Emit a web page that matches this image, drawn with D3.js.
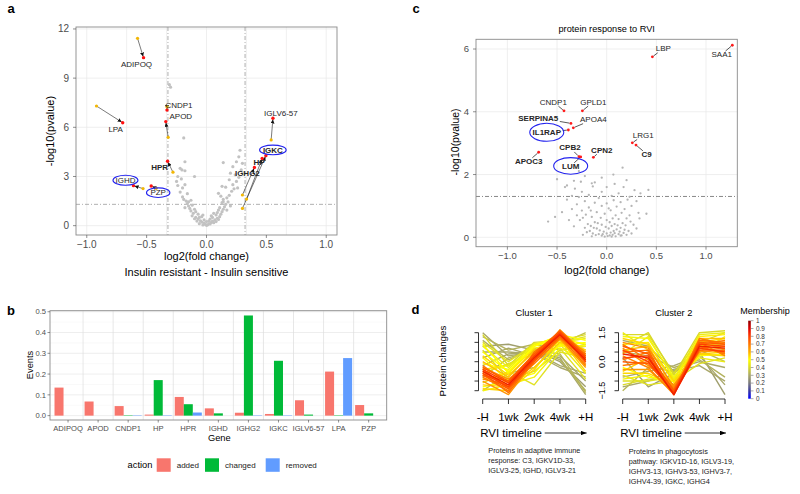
<!DOCTYPE html>
<html>
<head>
<meta charset="utf-8">
<script src="https://cdn.jsdelivr.net/npm/d3@7/dist/d3.min.js"></script>
<style>
html,body{margin:0;padding:0;background:#fff;}
svg{display:block;font-family:"Liberation Sans",Arial,Helvetica,sans-serif;}
</style>
</head>
<body>
<svg id="fig" width="800" height="494"></svg>
<script>
// ================= DATA =================
// ---- panel a ----
const aXTicks = [-1.0, -0.5, 0.0, 0.5, 1.0];
const aYTicks = [0, 3, 6, 9, 12];
const aGridX = [-1, -0.667, -0.333, 0, 0.333, 0.667, 1];
const aFcCut = 0.322, aPCut = 1.301;
const aGenes = ["ADIPOQ","LPA","CNDP1","APOD","HPR","IGHD","PZP","IGLV6-57","IGKC","HP","IGHG2"];
const aBold  = ["HPR","IGKC","HP","IGHG2"];
const aFromX = [-0.576,-0.919,-0.33,-0.32,-0.28,-0.53,-0.42,0.54,0.30,0.335,0.30];
const aFromY = [11.43,7.30,7.25,5.39,3.26,2.26,2.28,5.23,1.05,1.62,1.87];
const aToX   = [-0.526,-0.70,-0.33,-0.34,-0.325,-0.61,-0.462,0.555,0.496,0.465,0.40];
const aToY   = [10.25,6.28,7.05,6.35,3.93,2.44,2.42,6.55,4.27,4.10,3.55];
const aCircled = ["IGHD","PZP","IGKC"];
const aBackground = [
 [0.00,0.02],[0.01,0.05],[-0.01,0.08],[0.02,0.12],[-0.02,0.15],[0.03,0.10],[-0.03,0.04],[0.04,0.20],[-0.04,0.22],[0.05,0.28],
 [-0.05,0.30],[0.06,0.18],[-0.06,0.12],[0.07,0.35],[-0.07,0.40],[0.08,0.25],[-0.08,0.28],[0.09,0.45],[-0.09,0.50],[0.10,0.38],
 [-0.10,0.42],[0.02,0.30],[-0.02,0.35],[0.05,0.50],[-0.04,0.55],[0.11,0.55],[-0.12,0.60],[0.00,0.25],[0.03,0.40],[-0.06,0.50],
 [0.12,0.70],[-0.11,0.75],[0.13,0.85],[-0.13,0.90],[0.09,0.80],[-0.09,0.85],[0.14,1.00],[-0.14,1.05],[0.15,1.15],[-0.15,1.20],
 [0.11,1.10],[-0.12,1.25],[0.16,1.30],[-0.16,1.35],[0.18,1.45],[-0.17,1.50],[0.13,1.40],[-0.19,1.60],[0.10,0.95],[-0.10,1.00],
 [0.17,0.95],[-0.18,1.10],[0.20,1.20],[0.08,0.65],[-0.07,0.70],[0.04,0.60],[0.06,0.75],[-0.03,0.65],
 [0.17,1.70],[-0.20,1.75],[0.19,1.85],[-0.16,1.95],[0.14,1.60],[-0.22,2.05],[0.21,2.10],[-0.20,2.30],[0.23,2.25],[-0.24,2.45],
 [0.16,2.35],[-0.18,2.50],[0.13,2.40],[0.22,2.50],[-0.25,2.70],[0.25,2.70],[-0.21,2.85],[0.19,2.80],[-0.24,3.00],[0.27,2.95],
 [0.24,3.10],[-0.10,3.00],[0.20,3.20],[0.12,1.80],[-0.13,1.55],[0.10,1.97],[-0.15,1.46],[0.14,1.46],
 [-0.22,3.50],[-0.18,3.35],[-0.18,3.90],[0.22,3.60],[0.25,3.90],[0.27,4.20],[0.28,4.60],[0.14,3.85],[0.29,3.40],[0.30,3.80],
 [-0.19,5.35],[-0.31,8.60],[-0.30,8.45],[-0.205,3.40],[0.26,2.30]
];
// ---- panel b ----
const bGenes = ["ADIPOQ","APOD","CNDP1","HP","HPR","IGHD","IGHG2","IGKC","IGLV6-57","LPA","PZP"];
const bActions = ["added","changed","removed"];
const bAdded   = [0.135,0.068,0.046,0.005,0.090,0.035,0.014,0.008,0.074,0.212,0.051];
const bChanged = [0.000,0.000,0.002,0.171,0.055,0.011,0.482,0.264,0.005,0.002,0.011];
const bRemoved = [0.000,0.000,0.002,0.002,0.015,0.000,0.002,0.002,0.000,0.277,0.000];
const bYTicks = [0.0,0.1,0.2,0.3,0.4,0.5];
// ---- panel c ----
const cXTicks = [-1.0,-0.5,0.0,0.5,1.0];
const cYTicks = [0,2,4,6];
const cGenes = ["LBP","SAA1","CNDP1","GPLD1","SERPINA5","APOA4","IL1RAP","LRG1","C9","CPB2","CPN2","APOC3","LUM"];
const cBold  = ["SERPINA5","IL1RAP","C9","CPB2","CPN2","APOC3","LUM"];
const cX = [0.46,1.265,-0.43,-0.245,-0.36,-0.336,-0.386,0.258,0.295,-0.279,-0.134,-0.685,-0.262];
const cY = [5.75,6.12,4.03,4.03,3.63,3.49,3.42,3.01,2.94,2.57,2.55,2.71,2.56];
const cCircled = ["IL1RAP","LUM"];
const cBackground = [
 [-0.02,0.02],[0.01,0.04],[0.03,0.06],[-0.05,0.05],[0.06,0.08],[-0.08,0.10],[0.09,0.03],[-0.11,0.07],[0.12,0.10],[-0.14,0.12],
 [0.15,0.06],[0.00,0.12],[0.04,0.15],[-0.03,0.18],[0.07,0.20],[-0.07,0.22],[0.10,0.25],[-0.10,0.28],[0.13,0.18],[-0.13,0.30],
 [0.17,0.14],[-0.17,0.20],[0.20,0.08],[-0.20,0.16],[0.02,0.28],[-0.01,0.33],[0.05,0.36],[-0.05,0.40],[0.08,0.42],[-0.09,0.45],
 [0.11,0.38],[0.14,0.30],[-0.16,0.36],[0.18,0.24],[-0.22,0.30],[0.22,0.20],[0.25,0.12],[-0.24,0.08],[0.03,0.48],[0.16,0.45],
 [-0.12,0.48],[0.19,0.38],[-0.19,0.42],[0.08,0.13],[-0.04,0.10],[0.14,0.05],[-0.15,0.03],[0.05,0.02],
 [-0.27,0.55],[0.00,0.55],[0.06,0.60],[-0.06,0.62],[0.12,0.58],[-0.15,0.65],[0.20,0.60],[-0.30,0.70],[0.24,0.50],[0.27,0.40],
 [-0.21,0.72],[0.09,0.70],[-0.02,0.75],[0.15,0.78],[-0.10,0.80],[0.32,0.78],[-0.25,0.85],[0.04,0.86],[-0.35,0.90],[0.18,0.90],
 [-0.18,0.95],[0.10,0.98],[-0.05,1.00],[0.25,1.00],[-0.30,1.05],[0.00,1.08],[-0.12,1.10],[0.14,1.12],[-0.22,1.15],[0.07,1.18],
 [-0.40,1.20],[0.21,1.20],[-0.08,1.25],[-0.28,1.28],[0.30,1.15],[-0.45,0.80],[-0.38,0.55],[-0.59,0.50],[-0.52,0.65],[0.40,0.75],
 [0.33,0.60],[-0.33,0.35],[0.30,0.28],[-0.24,0.62],[0.23,0.70],[-0.16,0.85],[0.02,0.92],
 [-0.35,1.32],[0.05,1.32],[0.23,1.29],[-0.18,1.35],[0.12,1.40],[-0.25,1.45],[-0.05,1.45],[0.28,1.50],[0.42,1.51],[-0.32,1.55],
 [0.00,1.60],[0.17,1.60],[-0.14,1.62],[-0.40,1.65],[0.08,1.70],[-0.26,1.77],[-0.15,1.72],[-0.12,1.75],[0.20,1.82],[-0.33,1.80],
 [-0.50,1.85],[-0.05,1.90],[-0.22,1.95],[0.067,2.00],[-0.28,2.11],[0.16,2.22],[-0.42,1.60],[0.34,1.40]
];
// ---- panel d ----
const dTimes = ["-H","1wk","2wk","4wk","+H"];
const dYTicks = [-1.5,-1.0,-0.5,0.0,0.5,1.0,1.5];
const dYLabels = [1.5,0.0,-1.5];
const dC1Values = [
 [-0.5,-1.2,0.2,1.4,0.1],[-0.6,-1.3,0.1,1.5,0.0],[-0.4,-1.1,0.3,1.5,0.2],[-0.7,-1.4,0.0,1.3,0.2],[-0.3,-1.0,0.4,1.6,0.3],
 [-0.8,-1.5,0.2,1.4,-0.1],[-0.5,-1.3,-0.1,1.2,0.4],[-0.2,-1.1,0.2,1.3,-0.2],[-0.9,-1.2,0.3,1.6,0.1],[-0.6,-1.6,0.1,1.3,0.3],
 [-0.4,-1.4,0.5,1.5,0.0],[-1.0,-1.7,0.0,1.65,0.4],[-0.3,-0.9,0.1,1.4,0.5],[-0.7,-1.0,0.4,1.2,-0.3],
 [0.0,-0.8,0.6,1.1,0.3],[-1.2,-1.3,-0.3,1.0,0.6],[0.3,-0.7,0.5,1.3,0.6],[-0.9,-0.6,0.7,1.0,-0.2],[0.5,-0.5,0.8,1.2,0.9],
 [-1.3,-1.0,-0.6,0.9,0.8],[0.2,-1.0,0.2,0.8,1.0],[-0.1,-0.4,0.9,1.3,0.4],[-1.5,-1.2,-0.8,0.7,0.1],[0.8,-0.3,0.9,1.0,1.2],
 [-0.4,-0.2,0.6,0.9,-0.6],[1.0,0.0,0.9,1.0,1.3],[-1.1,-0.5,-1.2,0.5,0.2],[1.4,-0.2,1.0,1.1,1.4],[0.6,-0.9,-0.5,0.6,0.9],
 [-0.6,-0.1,0.4,0.7,-0.9],[0.9,-0.6,0.8,1.4,1.1],[-1.4,-1.5,-0.4,1.2,-0.5],
 [1.5,0.3,0.5,0.2,-1.7],[0.8,0.9,0.6,0.0,-1.3],[0.5,0.5,0.4,-0.3,-0.8],[0.2,0.7,0.3,0.3,-1.0],[1.1,0.1,0.7,0.1,-1.5],
 [-0.2,0.4,0.5,-0.2,-0.6],[-0.8,0.2,0.6,0.4,-1.6],[1.3,0.6,0.9,0.6,0.8],[-1.5,-0.6,-0.3,0.9,1.5]
];
const dC1Member = [0.85,0.8,0.8,0.75,0.75,0.7,0.7,0.7,0.68,0.72,0.72,0.65,0.66,0.64,
 0.58,0.56,0.55,0.52,0.5,0.5,0.5,0.48,0.47,0.45,0.45,0.42,0.42,0.4,0.4,0.42,0.5,0.55,
 0.3,0.28,0.3,0.3,0.32,0.3,0.33,0.32,0.35];
const dC2Values = [
 [0.4,0.2,-1.7,0.8,0.7],[0.6,0.0,-1.6,0.9,0.8],[0.2,0.3,-1.7,0.7,0.5],[0.8,0.4,-1.5,1.0,0.9],[0.0,-0.1,-1.6,0.6,0.6],
 [0.5,0.6,-1.7,1.1,1.0],[0.9,0.1,-1.4,0.8,0.4],[-0.2,0.0,-1.5,0.9,1.1],[0.3,-0.3,-1.7,1.0,0.3],[1.0,0.7,-1.3,0.6,0.7],
 [0.1,0.5,-1.6,1.2,0.9],[0.7,-0.2,-1.2,0.5,0.6],[-0.4,-0.4,-1.6,0.7,0.8],
 [1.2,0.9,-1.0,0.4,0.3],[-0.6,-0.6,-1.2,1.0,1.2],[0.9,1.0,-1.1,1.3,1.4],[-0.3,-0.8,-1.0,0.3,0.4],[1.3,1.2,-0.8,0.8,1.0],
 [-0.9,-0.7,-1.3,0.5,1.3],[0.4,1.3,-0.9,1.4,1.5],[1.5,0.6,-0.9,0.2,0.0],[-1.0,-1.0,-0.8,0.8,0.9],[0.8,1.5,-0.7,1.5,1.6],
 [-0.7,-1.2,-1.0,-0.1,0.2],[1.4,1.4,-0.6,1.1,0.6],[-1.2,-0.9,-0.9,1.0,1.5],[0.6,0.8,-1.4,1.2,1.2],[-0.5,0.2,-1.3,0.4,0.5],
 [-1.3,-1.0,-0.4,0.0,-0.3],[0.2,-1.3,-0.6,0.5,-1.7],[-0.8,-0.5,-0.2,0.3,-1.2],[0.5,0.3,-0.3,0.1,-0.8],[1.1,0.8,-0.5,-0.2,-1.0],
 [-1.5,-0.3,-0.5,0.6,0.0]
];
const dC2Member = [0.85,0.8,0.8,0.75,0.75,0.72,0.7,0.7,0.68,0.66,0.7,0.65,0.64,
 0.55,0.55,0.52,0.5,0.48,0.47,0.45,0.45,0.42,0.4,0.42,0.4,0.4,0.58,0.56,
 0.3,0.28,0.3,0.32,0.3,0.33];
const dMemberTicks = [0,0.1,0.2,0.3,0.4,0.5,0.6,0.7,0.8,0.9,1];
const dNote1 = ["Proteins in adaptive immune","response: C3, IGKV1D-33,","IGLV3-25, IGHD, IGLV3-21"];
const dNote2 = ["Proteins in phagocytosis","pathway: IGKV1D-16, IGLV3-19,","IGHV3-13, IGHV3-53, IGHV3-7,","IGHV4-39, IGKC, IGHG4"];

// ================= LAYOUT / STYLE =================
const aLabDX = [-7,-7,12,15,-8,-8,7,8,7,-3,-7];
const aLabDY = [6.5,6.6,-5,-5,6,-5.4,6.7,-5,-5.7,3.3,5.7];
const aEll = {IGHD:[12.5,5],PZP:[11.7,4.8],IGKC:[13.3,4.8]};
const cLabDX = [11,-10.6,-10.7,11,-32.7,20,-21.6,11,10.7,-9,8.4,-10,-10];
const cLabDY = [-8.4,9,-9,-9,-5.6,-8.4,2.3,-7.7,9,-9,-7.3,8.7,9];
const cEll = {IL1RAP:[17,9],LUM:[17,8.3]};
const memColorStops = [[0,"#0000ff"],[0.1,"#3a3aa0"],[0.2,"#7a7a80"],[0.3,"#a9a86a"],[0.4,"#d9d92a"],[0.5,"#ffff00"],
  [0.6,"#ffb000"],[0.7,"#ff7800"],[0.8,"#ff4000"],[0.9,"#e00000"],[1,"#8b0000"]];
const actionColors = ["#F8766D","#00BA38","#619CFF"];

const svg = d3.select("#fig");
const defs = svg.append("defs");
defs.append("marker").attr("id","arrA").attr("viewBox","0 0 6 6").attr("refX",6).attr("refY",3)
  .attr("markerWidth",4).attr("markerHeight",4).attr("markerUnits","userSpaceOnUse").attr("orient","auto")
  .append("path").attr("d","M0,0 L6,3 L0,6 z").attr("fill","#111");
defs.append("marker").attr("id","arrD").attr("viewBox","0 0 8 6").attr("refX",8).attr("refY",3)
  .attr("markerWidth",6).attr("markerHeight",4.5).attr("markerUnits","userSpaceOnUse").attr("orient","auto")
  .append("path").attr("d","M0,0 L8,3 L0,6 z").attr("fill","#000");

function txt(g,x,y,s,o={}){
  const t=g.append("text").attr("x",x).attr("y",y).text(s)
    .attr("font-size",o.size||10).attr("fill",o.fill||"#000")
    .attr("text-anchor",o.anchor||"middle");
  if(o.bold) t.attr("font-weight","bold");
  if(o.mid!==false) t.attr("dy","0.35em");
  if(o.rot) t.attr("transform",`rotate(${o.rot},${x},${y})`);
  return t;
}

// panel letters
txt(svg,11,8.5,"a",{size:13,bold:true});
txt(svg,416,8.5,"c",{size:13,bold:true});
txt(svg,11,310.5,"b",{size:13,bold:true});
txt(svg,415.5,309.5,"d",{size:13,bold:true});

// ================= PANEL A =================
(function(){
  const X0=76,X1=337,Y0=27,Y1=235;
  const x=d3.scaleLinear().domain([-1.09,1.09]).range([X0,X1]);
  const y=d3.scaleLinear().domain([-0.57,12.12]).range([Y1,Y0]);
  const g=svg.append("g");
  g.selectAll(null).data(aGridX).join("line").attr("x1",d=>x(d)).attr("x2",d=>x(d)).attr("y1",Y0).attr("y2",Y1)
    .attr("stroke","#e8e8e8").attr("stroke-width",0.7);
  g.selectAll(null).data(aYTicks).join("line").attr("y1",d=>y(d)).attr("y2",d=>y(d)).attr("x1",X0).attr("x2",X1)
    .attr("stroke","#e8e8e8").attr("stroke-width",0.7);
  const dash="4,2,1,2";
  [-aFcCut,aFcCut].forEach(v=>g.append("line").attr("x1",x(v)).attr("x2",x(v)).attr("y1",Y0).attr("y2",Y1)
    .attr("stroke","#9a9a9a").attr("stroke-width",0.8).attr("stroke-dasharray",dash));
  g.append("line").attr("x1",X0).attr("x2",X1).attr("y1",y(aPCut)).attr("y2",y(aPCut))
    .attr("stroke","#9a9a9a").attr("stroke-width",0.8).attr("stroke-dasharray",dash);
  g.selectAll(null).data(aBackground).join("circle").attr("cx",d=>x(d[0])).attr("cy",d=>y(d[1])).attr("r",1.6)
    .attr("fill","#c2c2c2");
  // arrows
  aGenes.forEach((gn,i)=>{
    const x1=x(aFromX[i]),y1=y(aFromY[i]),x2=x(aToX[i]),y2=y(aToY[i]);
    const L=Math.hypot(x2-x1,y2-y1);
    const ux=(x2-x1)/L,uy=(y2-y1)/L;
    g.append("line").attr("x1",x1).attr("y1",y1).attr("x2",x2-ux*1.2).attr("y2",y2-uy*1.2)
      .attr("stroke","#222").attr("stroke-width",0.6).attr("marker-end","url(#arrA)");
  });
  g.selectAll(null).data(aGenes).join("circle").attr("cx",(d,i)=>x(aFromX[i])).attr("cy",(d,i)=>y(aFromY[i]))
    .attr("r",1.6).attr("fill","#f2b705");
  g.selectAll(null).data(aGenes).join("circle").attr("cx",(d,i)=>x(aToX[i])).attr("cy",(d,i)=>y(aToY[i]))
    .attr("r",1.7).attr("fill","#ff1010");
  aGenes.forEach((gn,i)=>{
    const lx=x(aToX[i])+aLabDX[i], ly=y(aToY[i])+aLabDY[i];
    txt(g,lx,ly,gn,{size:8,fill:"#262626",bold:aBold.includes(gn)});
    if(aCircled.includes(gn)){
      const e=aEll[gn];
      g.append("ellipse").attr("cx",lx).attr("cy",ly).attr("rx",e[0]).attr("ry",e[1])
        .attr("fill","none").attr("stroke","#2323ee").attr("stroke-width",1.1);
    }
  });
  g.append("rect").attr("x",X0).attr("y",Y0).attr("width",X1-X0).attr("height",Y1-Y0)
    .attr("fill","none").attr("stroke","#8a8a8a").attr("stroke-width",0.9);
  aXTicks.forEach(v=>{
    g.append("line").attr("x1",x(v)).attr("x2",x(v)).attr("y1",Y1).attr("y2",Y1+3).attr("stroke","#444").attr("stroke-width",0.6);
    txt(g,x(v),244,d3.format(".1f")(v),{size:10,fill:"#4d4d4d"});
  });
  aYTicks.forEach(v=>{
    g.append("line").attr("x1",X0-3).attr("x2",X0).attr("y1",y(v)).attr("y2",y(v)).attr("stroke","#444").attr("stroke-width",0.6);
    txt(g,69,y(v),String(v),{size:10,fill:"#4d4d4d",anchor:"end"});
  });
  txt(g,50,131,"-log10(pvalue)",{size:11,rot:-90});
  txt(g,(X0+X1)/2,256,"log2(fold change)",{size:11});
  txt(g,(X0+X1)/2,272,"Insulin resistant - Insulin sensitive",{size:11});
})();

// ================= PANEL C =================
(function(){
  const X0=476,X1=737.3,Y0=39.3,Y1=246.7;
  const x=d3.scaleLinear().domain([-1.316,1.315]).range([X0,X1]);
  const y=d3.scaleLinear().domain([-0.3,6.31]).range([Y1,Y0]);
  const g=svg.append("g");
  g.selectAll(null).data(cXTicks).join("line").attr("x1",d=>x(d)).attr("x2",d=>x(d)).attr("y1",Y0).attr("y2",Y1)
    .attr("stroke","#e8e8e8").attr("stroke-width",0.7);
  g.selectAll(null).data(cYTicks).join("line").attr("y1",d=>y(d)).attr("y2",d=>y(d)).attr("x1",X0).attr("x2",X1)
    .attr("stroke","#e8e8e8").attr("stroke-width",0.7);
  g.append("line").attr("x1",X0).attr("x2",X1).attr("y1",y(aPCut)).attr("y2",y(aPCut))
    .attr("stroke","#6a6a6a").attr("stroke-width",0.8).attr("stroke-dasharray","4,2,1,2");
  g.selectAll(null).data(cBackground).join("circle").attr("cx",d=>x(d[0])).attr("cy",d=>y(d[1])).attr("r",1.15)
    .attr("fill","#b5b5b5");
  g.selectAll(null).data(cGenes).join("circle").attr("cx",(d,i)=>x(cX[i])).attr("cy",(d,i)=>y(cY[i]))
    .attr("r",1.4).attr("fill","#ff1a1a");
  cGenes.forEach((gn,i)=>{
    const px=x(cX[i]),py=y(cY[i]);
    const lx=px+cLabDX[i], ly=py+cLabDY[i];
    const t=txt(g,lx,ly,gn,{size:8,fill:"#262626",bold:cBold.includes(gn)});
    const bb=t.node().getBBox();
    const bx0=bb.x-1,bx1=bb.x+bb.width+1,by0=bb.y+1,by1=bb.y+bb.height-0.5;
    // segment point -> label box edge
    const dx=lx-px,dy=ly-py;
    let tmax=1;
    const cand=[];
    if(dx!==0){cand.push(((dx>0?bx0:bx1)-px)/dx);}
    if(dy!==0){cand.push(((dy>0?by0:by1)-py)/dy);}
    cand.forEach(tt=>{
      const qx=px+dx*tt,qy=py+dy*tt;
      if(tt>0&&tt<tmax&&qx>=bx0-0.01&&qx<=bx1+0.01&&qy>=by0-0.01&&qy<=by1+0.01) tmax=tt;
    });
    const ex=px+dx*tmax,ey=py+dy*tmax;
    const L=Math.hypot(ex-px,ey-py);
    if(L>2.5){
      const ux=(ex-px)/L,uy=(ey-py)/L;
      g.append("line").attr("x1",px+ux*1.5).attr("y1",py+uy*1.5).attr("x2",ex).attr("y2",ey)
        .attr("stroke","#111").attr("stroke-width",0.7);
    }
    if(cCircled.includes(gn)){
      const e=cEll[gn];
      g.append("ellipse").attr("cx",lx).attr("cy",ly).attr("rx",e[0]).attr("ry",e[1])
        .attr("fill","none").attr("stroke","#2323ee").attr("stroke-width",1.1);
    }
  });
  g.append("rect").attr("x",X0).attr("y",Y0).attr("width",X1-X0).attr("height",Y1-Y0)
    .attr("fill","none").attr("stroke","#8a8a8a").attr("stroke-width",0.9);
  cXTicks.forEach(v=>{
    g.append("line").attr("x1",x(v)).attr("x2",x(v)).attr("y1",Y1).attr("y2",Y1+3).attr("stroke","#444").attr("stroke-width",0.6);
    txt(g,x(v),256,d3.format(".1f")(v),{size:9.5,fill:"#4d4d4d"});
  });
  cYTicks.forEach(v=>{
    g.append("line").attr("x1",X0-3).attr("x2",X0).attr("y1",y(v)).attr("y2",y(v)).attr("stroke","#444").attr("stroke-width",0.6);
    txt(g,469,y(v),String(v),{size:9.5,fill:"#4d4d4d",anchor:"end"});
  });
  txt(g,455,142,"-log10(pvalue)",{size:10.5,rot:-90});
  txt(g,(X0+X1)/2,270.5,"log2(fold change)",{size:11});
  txt(g,(X0+X1)/2,29,"protein response to RVI",{size:9.2});
})();

// ================= PANEL B =================
(function(){
  const X0=50,X1=386.7,Y0=310.7,Y1=420;
  const x=d3.scaleBand().domain(bGenes).range([X0,X1]).paddingInner(0).paddingOuter(0.1);
  const xs=d3.scaleBand().domain(bActions).range([-0.45*x.step(),0.45*x.step()]);
  const y=d3.scaleLinear().domain([-0.021,0.505]).range([Y1,Y0]);
  const g=svg.append("g");
  const minor=[0.05,0.15,0.25,0.35,0.45];
  g.selectAll(null).data(minor).join("line").attr("y1",d=>y(d)).attr("y2",d=>y(d)).attr("x1",X0).attr("x2",X1)
    .attr("stroke","#f3f3f3").attr("stroke-width",0.5);
  g.selectAll(null).data(bYTicks).join("line").attr("y1",d=>y(d)).attr("y2",d=>y(d)).attr("x1",X0).attr("x2",X1)
    .attr("stroke","#e6e6e6").attr("stroke-width",0.7);
  g.selectAll(null).data(bGenes.slice(1)).join("line").attr("x1",d=>x(d)).attr("x2",d=>x(d)).attr("y1",Y0).attr("y2",Y1)
    .attr("stroke","#dcdcdc").attr("stroke-width",0.7);
  const series=[bAdded,bChanged,bRemoved];
  bGenes.forEach((gn,i)=>{
    const c=x(gn)+x.bandwidth()/2;
    bActions.forEach((a,j)=>{
      const v=series[j][i];
      g.append("rect").attr("x",c+xs(a)).attr("width",xs.bandwidth())
        .attr("y",y(v)).attr("height",Math.max(0,y(0)-y(v))).attr("fill",actionColors[j]);
    });
  });
  g.append("rect").attr("x",X0).attr("y",Y0).attr("width",X1-X0).attr("height",Y1-Y0)
    .attr("fill","none").attr("stroke","#8a8a8a").attr("stroke-width",0.9);
  bGenes.forEach(gn=>{
    const c=x(gn)+x.bandwidth()/2;
    g.append("line").attr("x1",c).attr("x2",c).attr("y1",Y1).attr("y2",Y1+2.5).attr("stroke","#444").attr("stroke-width",0.6);
    txt(g,c,428.5,gn,{size:7.6,fill:"#4d4d4d"});
  });
  bYTicks.forEach(v=>{
    g.append("line").attr("x1",X0-2.5).attr("x2",X0).attr("y1",y(v)).attr("y2",y(v)).attr("stroke","#444").attr("stroke-width",0.6);
    txt(g,46,y(v),d3.format(".1f")(v),{size:7.6,fill:"#4d4d4d",anchor:"end"});
  });
  txt(g,29.5,365,"Events",{size:9.3,rot:-90});
  txt(g,(X0+X1)/2+1,437.5,"Gene",{size:9.3});
  // legend
  txt(g,140,465,"action",{size:9.3});
  const keyX=[156.7,205,265.7];
  bActions.forEach((a,j)=>{
    g.append("rect").attr("x",keyX[j]).attr("y",458.3).attr("width",14).attr("height",13.5).attr("fill",actionColors[j]);
    txt(g,keyX[j]+20,465,a,{size:8,fill:"#222",anchor:"start"});
  });
})();

// ================= PANEL D =================
(function(){
  const memColor=d3.scaleLinear().domain(memColorStops.map(d=>d[0])).range(memColorStops.map(d=>d[1]));
  const y=d3.scaleLinear().domain([-1.5,1.5]).range([390.7,332.7]);
  const g=svg.append("g");
  function cluster(xr,values,member,axisX,title,showLabels,note,noteX,noteY){
    const x=d3.scalePoint().domain(dTimes).range(xr);
    const idx=d3.range(values.length).sort((a,b)=>member[a]-member[b]);
    const line=d3.line().x((d,i)=>x(dTimes[i])).y(d=>y(d));
    idx.forEach(k=>{
      g.append("path").attr("d",line(values[k])).attr("fill","none")
        .attr("stroke",memColor(member[k])).attr("stroke-width",1.4).attr("stroke-linejoin","round");
    });
    // y axis
    g.append("line").attr("x1",axisX).attr("x2",axisX).attr("y1",y(-1.5)).attr("y2",y(1.5)).attr("stroke","#000").attr("stroke-width",0.8);
    dYTicks.forEach(v=>g.append("line").attr("x1",axisX-4).attr("x2",axisX).attr("y1",y(v)).attr("y2",y(v)).attr("stroke","#000").attr("stroke-width",0.8));
    if(showLabels){
      dYLabels.forEach(v=>txt(g,axisX-17,y(v),d3.format(".1f")(v),{size:9,rot:-90}));
    }
    // x axis
    const ay=399;
    g.append("line").attr("x1",xr[0]).attr("x2",xr[1]).attr("y1",ay).attr("y2",ay).attr("stroke","#000").attr("stroke-width",0.8);
    dTimes.forEach(t=>{
      g.append("line").attr("x1",x(t)).attr("x2",x(t)).attr("y1",ay).attr("y2",ay+5).attr("stroke","#000").attr("stroke-width",0.8);
      txt(g,x(t),417,t,{size:11.5});
    });
    txt(g,(xr[0]+xr[1])/2,313,title,{size:9.3});
    txt(g,xr[0]-2.5,433,"RVI timeline",{size:11.5,anchor:"start"});
    g.append("line").attr("x1",xr[0]+62).attr("x2",xr[1]+1).attr("y1",433).attr("y2",433)
      .attr("stroke","#000").attr("stroke-width",0.8).attr("marker-end","url(#arrD)");
    note.forEach((s,i)=>txt(g,noteX,noteY+i*9.8,s,{size:7.3,fill:"#222",anchor:"start"}));
  }
  cluster([482.7,585.7],dC1Values,dC1Member,478.5,"Cluster 1",false,dNote1,488.3,450.7);
  cluster([622.7,725],dC2Values,dC2Member,618.5,"Cluster 2",true,dNote2,628.7,451.7);
  txt(g,443,361,"Protein changes",{size:9.8,rot:-90});
  // colorbar
  const grad=defs.append("linearGradient").attr("id","memGrad").attr("x1",0).attr("x2",0).attr("y1",1).attr("y2",0);
  memColorStops.forEach(s=>grad.append("stop").attr("offset",s[0]).attr("stop-color",s[1]));
  const cy=d3.scaleLinear().domain([0,1]).range([398.7,320.7]);
  g.append("rect").attr("x",748.2).attr("y",cy(1)).attr("width",2.6).attr("height",cy(0)-cy(1)).attr("fill","url(#memGrad)");
  dMemberTicks.forEach(v=>{
    g.append("line").attr("x1",750.8).attr("x2",753.5).attr("y1",cy(v)).attr("y2",cy(v)).attr("stroke","#555").attr("stroke-width",0.5);
    txt(g,756,cy(v),String(v),{size:6.4,fill:"#333",anchor:"start"});
  });
  txt(g,765,310.5,"Membership",{size:9});
})();
</script>
</body>
</html>
